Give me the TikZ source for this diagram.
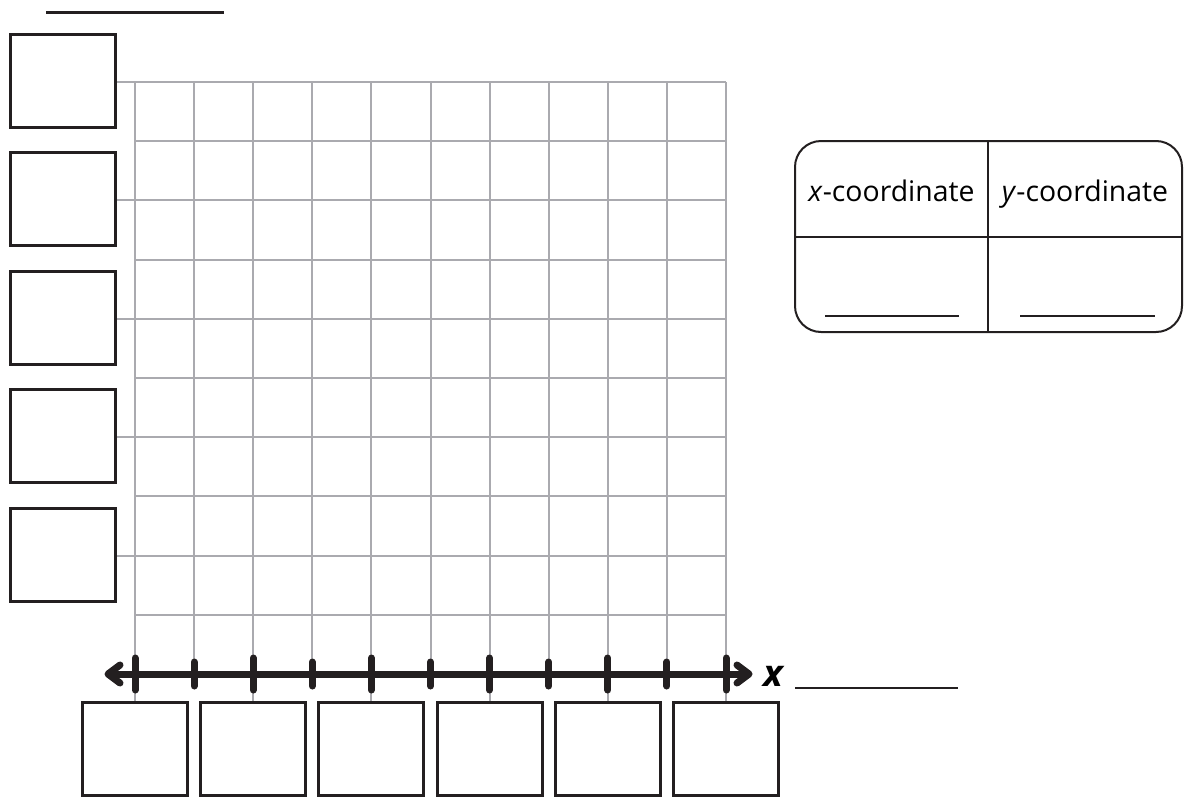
\documentclass[tikz,border=0pt]{standalone}
\usepackage{fontspec}
\setmainfont{Open Sans}
\begin{document}
\begin{tikzpicture}[x=1pt,y=-1pt,
  gridline/.style={draw={rgb,255:red,170;green,170;blue,175}, line width=2},
  answerbox/.style={draw={rgb,255:red,35;green,31;blue,32}, line width=3, minimum width=105, minimum height=93, inner sep=0},
  axisline/.style={draw={rgb,255:red,35;green,31;blue,32}, line width=7, line cap=round, line join=round},
  blank/.style={draw={rgb,255:red,35;green,31;blue,32}, line width=2.5},
  tablebox/.style={draw={rgb,255:red,35;green,31;blue,32}, line width=2}]
\useasboundingbox (0,0) rectangle (1185,798);
% grid
\foreach \i in {0,...,10} {
  \draw[gridline] ({135+59.1*\i},82) -- ({135+59.1*\i},674);
  \draw[gridline] (135,{82+59.2*\i}) -- (726,{82+59.2*\i});
}
\foreach \i in {0,2,...,10} {
  \draw[gridline] ({135+59.1*\i},674) -- ({135+59.1*\i},702);
}
\foreach \j in {0,2,4,6,8} {
  \draw[gridline] (117,{82+59.2*\j}) -- (135,{82+59.2*\j});
}
% left boxes
\foreach \j [count=\n] in {0,2,4,6,8} {
  \node[answerbox, fill=white] (yb\n) at (63,{81+59.2*\j}) {};
}
% bottom boxes
\foreach \k [count=\n] in {0,...,5} {
  \node[answerbox, fill=white] (xb\n) at ({135+118.2*\k},749) {};
}
% axis
\coordinate (axL) at (110,674);
\coordinate (axR) at (747,674);
\draw[axisline] (axL) -- (axR);
\draw[axisline] (120,665) -- (108,674) -- (120,683);
\draw[axisline] (737,665) -- (749,674) -- (737,683);
\foreach \i in {0,2,...,10} {
  \draw[axisline] ({135+59.1*\i},658) -- ({135+59.1*\i},690);
}
\foreach \i in {1,3,...,9} {
  \draw[axisline] ({135+59.1*\i},662) -- ({135+59.1*\i},686);
}
\node[font=\fontsize{37}{40}\selectfont\bfseries\itshape, inner sep=0, anchor=base] (xlab) at (773,686) {x};
\coordinate (b1a) at (795,688); \coordinate (b1b) at (958,688);
\draw[blank] (b1a) -- (b1b);
% top line
\coordinate (t1) at (46,12); \coordinate (t2) at (224,12);
\draw[blank, line width=3] (t1) -- (t2);
% table
\draw[tablebox, rounded corners=26] (795,141) rectangle (1182,332);
\coordinate (v1) at (988,141); \coordinate (v2) at (988,332);
\draw[tablebox] (v1) -- (v2);
\coordinate (h1) at (795,237); \coordinate (h2) at (1182,237);
\draw[tablebox] (h1) -- (h2);
\node[font=\fontsize{28.4}{32}\selectfont, inner sep=0, anchor=base] (xc) at (891.5,201) {\textit{x}-coordinate};
\node[font=\fontsize{28.4}{32}\selectfont, inner sep=0, anchor=base] (yc) at (1085,201) {\textit{y}-coordinate};
\coordinate (c1a) at (825,316); \coordinate (c1b) at (959,316);
\draw[blank] (c1a) -- (c1b);
\coordinate (c2a) at (1020,316); \coordinate (c2b) at (1155,316);
\draw[blank] (c2a) -- (c2b);
\end{tikzpicture}
\end{document}
